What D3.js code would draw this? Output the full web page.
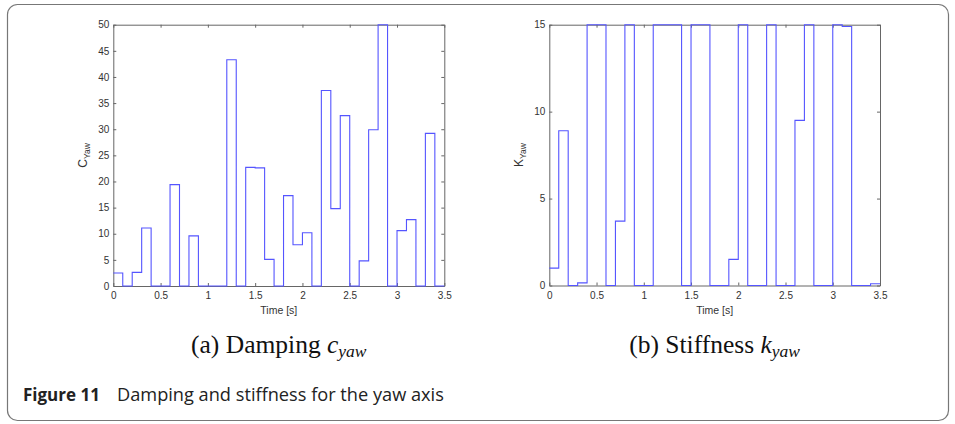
<!DOCTYPE html>
<html>
  <head>
    <title>yaw damping and stiffness</title>
    <meta charset="UTF-8" />
    <script src="https://d3js.org/d3.v7.min.js"></script>
    <style>
        body {
            margin: 0;
            background: #fff;
        }
        .tick text {
            font-family: "Liberation Sans", Arial, sans-serif;
            font-size: 10px;
            fill: #333;
        }
        .domain, .tick line {
            stroke: #666;
        }
        .gain {
            fill: none;
            stroke: #5555ff;
            stroke-width: 1.1;
        }
        .axis-label {
            font-family: "Liberation Sans", Arial, sans-serif;
            font-size: 10.5px;
            fill: #333;
        }
        .subcaption {
            font-family: "Liberation Serif", "Times New Roman", serif;
            font-size: 25.5px;
            fill: #111;
        }
        .caption {
            font-family: "Open Sans", sans-serif;
            font-size: 17px;
            fill: #222;
        }
    </style>
  </head>
  <body>

    <script>
        // gain values held over each 0.1 s step
        var stepTimes = [0, 0.1, 0.2, 0.3, 0.4, 0.5, 0.6, 0.7, 0.8, 0.9,
                         1.0, 1.1, 1.2, 1.3, 1.4, 1.5, 1.6, 1.7, 1.8, 1.9,
                         2.0, 2.1, 2.2, 2.3, 2.4, 2.5, 2.6, 2.7, 2.8, 2.9,
                         3.0, 3.1, 3.2, 3.3, 3.4, 3.5];

        var dampingValues = [2.5, 0, 2.6, 11.1, 0, 0, 19.4, 0, 9.6, 0,
                             0, 0, 43.3, 0, 22.7, 22.6, 5.1, 0, 17.3, 7.9,
                             10.2, 0, 37.4, 14.8, 32.6, 0, 4.8, 29.9, 50, 0,
                             10.6, 12.7, 0, 29.2, 0];

        var stiffnessValues = [1.0, 8.9, 0, 0.15, 15, 15, 0, 3.7, 15, 0,
                               0, 15, 15, 15, 0, 15, 15, 0, 0, 1.5,
                               15, 0, 0, 15, 0, 0, 9.5, 15, 0, 0,
                               15, 14.9, 0, 0, 0.1];

        var timeTicks = [0, 0.5, 1, 1.5, 2, 2.5, 3, 3.5];
        var dampingTicks = [0, 5, 10, 15, 20, 25, 30, 35, 40, 45, 50];
        var stiffnessTicks = [0, 5, 10, 15];

        var svg = d3.select("body")
            .append("svg")
            .attr("width", 955)
            .attr("height", 424);

        // figure frame
        svg.append("rect")
            .attr("x", 7.5)
            .attr("y", 4.5)
            .attr("width", 941)
            .attr("height", 416)
            .attr("rx", 10)
            .attr("fill", "none")
            .attr("stroke", "#777")
            .attr("stroke-width", 1.2);

        function drawPanel(box, values, yMax, yTicks, yName, caption) {
            var w = box.right - box.left,
                h = box.bottom - box.top;

            var g = svg.append("g")
                .attr("transform", "translate(" + box.left + "," + box.top + ")");

            var xScale = d3.scaleLinear().domain([0, 3.5]).range([0, w]);
            var yScale = d3.scaleLinear().domain([0, yMax]).range([h, 0]);

            // box with inward ticks on all four sides
            g.append("g")
                .attr("transform", "translate(0," + h + ")")
                .call(d3.axisBottom(xScale).tickValues(timeTicks).tickFormat(d => d)
                    .tickSizeInner(-3).tickSizeOuter(0).tickPadding(6));
            g.append("g")
                .call(d3.axisTop(xScale).tickValues(timeTicks).tickFormat("")
                    .tickSizeInner(-3).tickSizeOuter(0));
            g.append("g")
                .call(d3.axisLeft(yScale).tickValues(yTicks).tickFormat(d => d)
                    .tickSizeInner(-3).tickSizeOuter(0).tickPadding(4));
            g.append("g")
                .attr("transform", "translate(" + w + ",0)")
                .call(d3.axisRight(yScale).tickValues(yTicks).tickFormat("")
                    .tickSizeInner(-3).tickSizeOuter(0));

            // stairs: hold each value until the next step time
            var pts = values.map((v, i) => [stepTimes[i], v]);
            pts.push([stepTimes[stepTimes.length - 1], values[values.length - 1]]);

            var line = d3.line()
                .x(d => xScale(d[0]))
                .y(d => yScale(d[1]))
                .curve(d3.curveStepAfter);

            g.append("path")
                .datum(pts)
                .attr("class", "gain")
                .attr("d", line);

            g.append("text")
                .attr("class", "axis-label")
                .attr("x", w / 2)
                .attr("y", h + 28.5)
                .attr("text-anchor", "middle")
                .text("Time [s]");

            var yl = g.append("text")
                .attr("class", "axis-label")
                .attr("transform", "translate(-26.6," + (h / 2) + ") rotate(-90)")
                .attr("text-anchor", "middle");
            yl.append("tspan").attr("font-size", "12px").text(yName);
            yl.append("tspan").attr("dy", 3).attr("font-size", "8.5px").text("Yaw");

            var sc = g.append("text")
                .attr("class", "subcaption")
                .attr("x", w / 2)
                .attr("y", 353 - box.top)
                .attr("text-anchor", "middle");
            sc.append("tspan").text(caption[0] + " ");
            sc.append("tspan").attr("font-style", "italic").text(caption[1]);
            sc.append("tspan").attr("font-style", "italic").attr("font-size", "17.5px")
                .attr("dy", 4).text("yaw");
        }

        drawPanel({ left: 113.3, right: 444.3, top: 24.7, bottom: 286 },
            dampingValues, 50, dampingTicks, "C", ["(a) Damping", "c"]);
        drawPanel({ left: 549.3, right: 880, top: 24.7, bottom: 285.5 },
            stiffnessValues, 15, stiffnessTicks, "K", ["(b) Stiffness", "k"]);

        var cap = svg.append("text")
            .attr("class", "caption")
            .attr("x", 23)
            .attr("y", 401);
        cap.append("tspan").attr("font-weight", "bold").text("Figure 11");
        cap.append("tspan").attr("x", 117).attr("font-size", "18.2px")
            .text("Damping and stiffness for the yaw axis");
    </script>
  </body>
</html>
